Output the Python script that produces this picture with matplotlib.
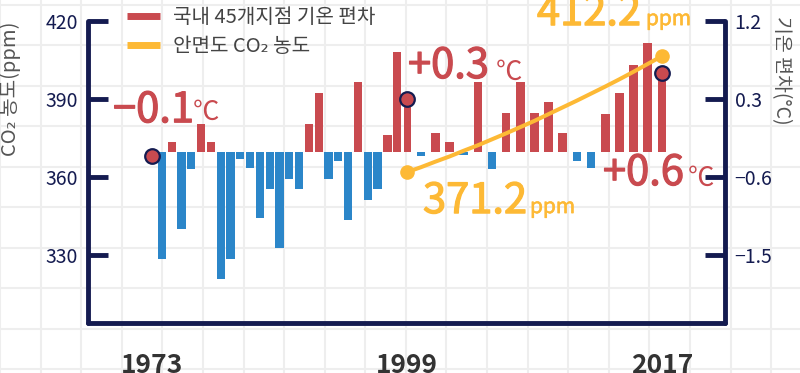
import numpy as np
import matplotlib.pyplot as plt
import matplotlib.patheffects as pe
from matplotlib.lines import Line2D

plt.rcParams['font.family'] = ['Noto Sans CJK KR', 'DejaVu Sans']

# temperature deviation bars (°C)
years = list(range(1973, 2018))
temp_dev = [-0.36, -1.55, -0.20, -1.20, -0.51, 0.01, -0.20, -1.78, -1.55, -0.39,
            -0.50, -1.07, -0.74, -1.42, -0.62, -0.74, 0.01, 0.37, -0.62, -0.42,
            -1.10, 0.50, -0.87, -0.74, -0.12, 0.84, 0.30, -0.36, -0.09, -0.20,
            -0.35, 0.50, -0.51, 0.14, 0.50, 0.14, 0.27, -0.09, -0.42, -0.50,
            0.13, 0.37, 0.69, 0.95, 0.60]

# Anmyeondo CO2 (ppm)
co2_years = list(range(1999, 2018))
co2_ppm = [361.9, 363.8, 365.9, 367.9, 370.1, 372.2, 374.5, 376.8, 379.2, 381.6,
           384.2, 386.8, 389.4, 392.1, 394.8, 397.6, 400.5, 403.5, 406.5]

mark_years = [1973, 1999, 2017]
mark_labels = ['−0.1', '+0.3', '+0.6']
co2_labels = ['371.2', '412.2']

left_ticks = [330, 360, 390, 420]
right_ticks = [-1.5, -0.6, 0.3, 1.2]
right_tick_labels = ['−1.5', '−0.6', '0.3', '1.2']
year_ticks = [1973, 1999, 2017]
legend_labels = ['국내 45개지점 기온 편차', '안면도 CO₂ 농도']

RED = '#C94A4F'
BLUE = '#2B86C9'
YEL = '#FDB935'
NAVY = '#141B50'
BASE = -0.31


# x axis: 1973-1999 and 1999-2017 get the same width
def fwd(x):
    x = np.asarray(x, float)
    return np.where(x <= 1999, x - 1973, 26 + (x - 1999) * 26 / 18)


def inv(u):
    u = np.asarray(u, float)
    return np.where(u <= 26, u + 1973, 1999 + (u - 26) * 18 / 26)


fig = plt.figure(figsize=(8, 3.73), dpi=100)

# grid paper background
bg = fig.add_axes([0, 0, 1, 1], zorder=-1)
bg.set_xlim(0, 800)
bg.set_ylim(373, 0)
bg.set_xticks(np.arange(-5.2, 800, 40.85))
bg.set_yticks(np.arange(4.5, 373, 40.5))
bg.grid(True, color='#EEEEEE', lw=1.5)
bg.tick_params(length=0, labelbottom=False, labelleft=False)
for s in bg.spines.values():
    s.set_visible(False)

ax = fig.add_axes([0.11, 0.134, 0.79625, 0.8097])
ax.set_facecolor('none')
ax.set_xscale('function', functions=(fwd, inv))
ax.set_xlim(1966.47, 2021.45)
ax.set_ylim(-2.2846, 1.2)

colors = [RED if v > BASE else BLUE for v in temp_dev]
widths = [0.84 if y < 1999 else 0.61 for y in years]
ax.bar(years, np.array(temp_dev) - BASE, bottom=BASE, width=widths,
       color=colors, zorder=2)

axc = ax.twinx()
axc.set_ylim(303.85, 420)
axc.plot(co2_years, co2_ppm, color=YEL, lw=2.9, zorder=3, solid_capstyle='round')
axc.plot([co2_years[0], co2_years[-1]], [co2_ppm[0], co2_ppm[-1]], 'o',
         color=YEL, ms=9.5, zorder=4)

# temperature markers
mark_vals = [temp_dev[years.index(y)] for y in mark_years]
ax.plot(mark_years, mark_vals, 'o', ms=10.5, mfc=RED, mec=NAVY,
        mew=1.6, zorder=5, clip_on=False)

# axes styling
ax.yaxis.tick_right()
axc.yaxis.tick_left()
ax.yaxis.set_label_position('right')
axc.yaxis.set_label_position('left')
for s in ['top', 'left']:
    ax.spines[s].set_visible(False)
for s in ['top', 'right', 'bottom']:
    axc.spines[s].set_visible(False)
for a, s in [(ax, 'right'), (ax, 'bottom'), (axc, 'left')]:
    a.spines[s].set_color(NAVY)
    a.spines[s].set_linewidth(3.5)
    a.spines[s].set_capstyle('round')

ax.set_yticks(right_ticks, labels=right_tick_labels)
axc.set_yticks(left_ticks)
for a in (ax, axc):
    a.tick_params(axis='y', direction='in', length=14.4, width=3.5, color=NAVY,
                  labelcolor=NAVY, labelsize=14, pad=7)
ax.set_xticks(year_ticks, labels=[str(y) for y in year_ticks], fontweight='bold')
ax.tick_params(axis='x', length=0, pad=21, labelsize=19, labelcolor='#333333')
ax.xaxis.set_minor_locator(plt.NullLocator())

axc.set_ylabel('CO₂ 농도(ppm)', fontsize=14.5, color='#555555')
axc.yaxis.set_label_coords(-0.105, 0.775)
ax.set_ylabel('기온 편차(°C)', fontsize=14, color='#555555', rotation=270, va='center')
ax.yaxis.set_label_coords(1.088, 0.838)

# big annotations (regular weight thickened a little)
big = dict(textcoords='offset pixels', ha='left', va='baseline',
           annotation_clip=False, zorder=6)
offsets = [((-39, 34), (41, 36)), ((1, 21), (89, 19)), ((-59, -112), (26, -113))]
for yr, val, lab, (o1, o2) in zip(mark_years, mark_vals, mark_labels, offsets):
    ax.annotate(lab, (yr, val), xytext=o1, fontsize=30, color=RED,
                path_effects=[pe.withStroke(linewidth=0.9, foreground=RED)], **big)
    ax.annotate('℃', (yr, val), xytext=o2, fontsize=19, color=RED, **big)

co2_offsets = [((16, -41), (123, -41)), ((-125, 31), (-16, 31))]
co2_pts = [(co2_years[0], co2_ppm[0]), (co2_years[-1], co2_ppm[-1])]
for pt, lab, (o1, o2) in zip(co2_pts, co2_labels, co2_offsets):
    axc.annotate(lab, pt, xytext=o1, fontsize=30, color=YEL,
                 path_effects=[pe.withStroke(linewidth=0.9, foreground=YEL)], **big)
    axc.annotate('ppm', pt, xytext=o2, fontsize=15, color=YEL,
                 path_effects=[pe.withStroke(linewidth=0.4, foreground=YEL)], **big)

handles = [Line2D([], [], color=RED, lw=5, solid_capstyle='butt'),
           Line2D([], [], color=YEL, lw=5, solid_capstyle='butt')]
fig.legend(handles, legend_labels, loc='upper left',
           bbox_to_anchor=(127 / 800, 1 - 7 / 373), frameon=False, fontsize=14.5,
           labelcolor='#444444', handlelength=1.65, handletextpad=0.65,
           labelspacing=0.4, borderpad=0, borderaxespad=0)

fig.savefig('out.png', dpi=100)
